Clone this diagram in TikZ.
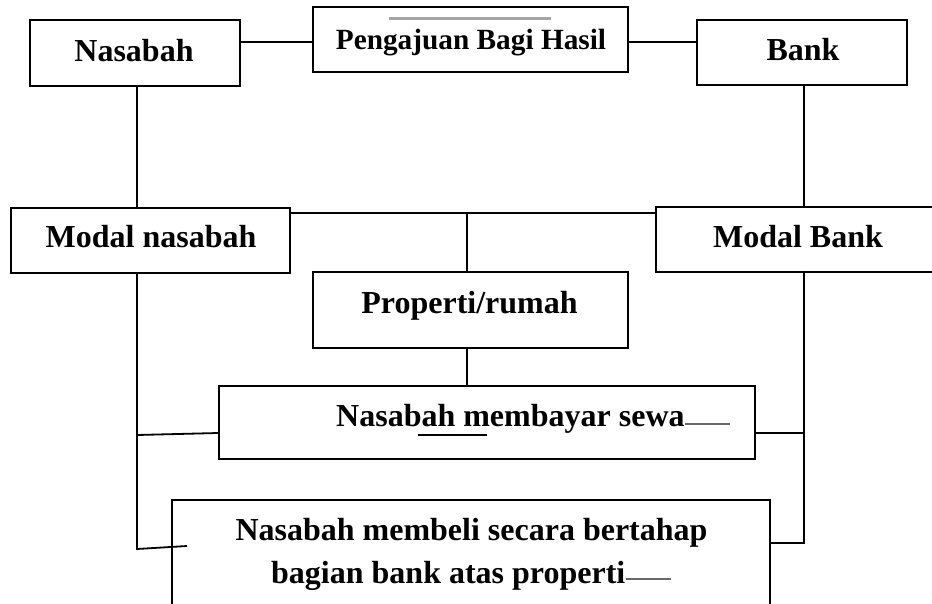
\documentclass[tikz,border=0pt]{standalone}
\usepackage{fontspec}
\setmainfont{Liberation Serif}
\usetikzlibrary{calc}
\definecolor{lgray}{RGB}{165,165,165}
\definecolor{dgray}{RGB}{105,105,105}
\begin{document}
\begin{tikzpicture}[x=1pt,y=-1pt,
  box/.style={draw, line width=1.8pt, inner sep=0pt},
  txt/.style={font=\bfseries\fontsize{32}{38}\selectfont, anchor=base, inner sep=0pt},
  conn/.style={line width=1.8pt},
  grayline/.style={line width=2.6pt, dgray},
  underl/.style={line width=2.4pt, black}]
\useasboundingbox (0,0) rectangle (932,603);
% boxes
\node[box,minimum width=210pt,minimum height=66pt] (nas) at (135,53) {};
\node[box,minimum width=315pt,minimum height=65pt] (peng) at (470.5,39.5) {};
\node[box,minimum width=210pt,minimum height=65pt] (bank) at (802,52.5) {};
\node[box,minimum width=279pt,minimum height=65pt] (modn) at (150.5,240.5) {};
\node[box,minimum width=320pt,minimum height=65pt] (modb) at (816,239.5) {};
\node[box,minimum width=315pt,minimum height=76pt] (prop) at (470.5,310) {};
\node[box,minimum width=536pt,minimum height=73pt] (sewa) at (487,422.5) {};
\node[box,minimum width=598pt,minimum height=140pt] (beli) at (471,570) {};
% texts
\node[txt] (tnas) at (134,61) {Nasabah};
\node[txt,font=\bfseries\fontsize{29.3}{35}\selectfont] (tpeng) at (471,49) {Pengajuan Bagi Hasil};
\node[txt] (tbank) at (803,60) {Bank};
\node[txt] (tmodn) at (151,247) {Modal nasabah};
\node[txt] (tmodb) at (798,247) {Modal Bank};
\node[txt] (tprop) at (469.5,313) {Properti/rumah};
\node[txt,anchor=base west] (tsewa) at (336,426) {Nasabah membayar sewa};
\node[txt] (tbeli1) at (471.5,540) {Nasabah membeli secara bertahap};
\node[txt,anchor=base west] (tbeli2) at (271,583) {bagian bank atas properti};
% decorative lines
\draw[line width=3pt, lgray] (389,18) -- (551,18);
\draw[grayline] ([yshift=2pt]tsewa.base east) -- ++(45,0);
\draw[grayline] ([yshift=4pt]tbeli2.base east) -- ++(45,0);
\draw[underl] (418,435) -- (487,435);
% named coordinates
\coordinate (L1) at (137,435);
\coordinate (L2) at (137,549);
\coordinate (Lend) at (187,546);
\coordinate (R1) at (804,433);
\coordinate (R2) at (804,543);
% connectors
\draw[conn] ($(peng.west)+(0,2.5)$) coordinate (a1) -- (a1 -| nas.east);
\draw[conn] ($(peng.east)+(0,2.5)$) coordinate (a2) -- (a2 -| bank.west);
\draw[conn] ($(nas.south)+(2,0)$) coordinate (v1) -- (v1 |- modn.north);
\draw[conn] ($(bank.south)+(2,0)$) coordinate (v2) -- (v2 |- modb.north);
\draw[conn] ($(modn.north east)+(0,6)$) coordinate (h1) -- (h1 -| modb.west);
\draw[conn] ($(prop.north)+(-3.5,0)$) coordinate (v3) -- (v3 |- h1);
\draw[conn] ($(prop.south)+(-3.5,0)$) coordinate (v4) -- (v4 |- sewa.north);
\draw[conn] (modn.south -| L1) -- (L2) -- (Lend);
\draw[conn] ($(modb.south -| R1)+(0,-2)$) -- (R2) -- (R2 -| beli.east);
\draw[conn] (L1) -- ($(sewa.west)+(0,10.5)$);
\draw[conn] (R1) -- (R1 -| sewa.east);
\end{tikzpicture}
\end{document}
